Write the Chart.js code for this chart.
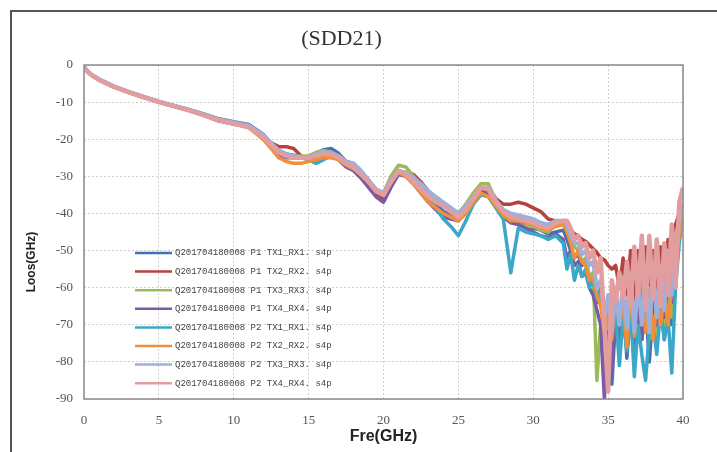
<!DOCTYPE html>
<html>
<head>
<meta charset="utf-8">
<script src="https://cdn.jsdelivr.net/npm/chart.js@4.4.1/dist/chart.umd.min.js"></script>
<style>
  html, body { margin: 0; padding: 0; background: #fff; }
  #wrap { position: relative; width: 717px; height: 452px; overflow: hidden; }
  #frame { position: absolute; left: 10px; top: 10px; width: 720px; height: 460px;
           border: 2px solid #555; pointer-events: none; }
</style>
</head>
<body>
<div id="wrap">
  <canvas id="sddChart" width="717" height="452"></canvas>
  <div id="frame"></div>
</div>
<script>
// frequency points (GHz)
var freq = [0, 0.25, 0.5, 1, 2, 3, 4, 5, 6, 7, 8, 9, 10, 11, 12,
    12.5, 13, 13.5, 14, 14.5, 15, 15.5, 16, 16.5, 17, 17.5, 18, 18.5, 19, 19.5, 20,
    20.5, 21, 21.5, 22, 22.5, 23, 23.5, 24, 24.5, 25, 25.5, 26, 26.5, 27, 27.5, 28,
    28.5, 29, 29.5, 30, 30.5, 31, 31.5, 32,
    32.25, 32.5, 32.75, 33, 33.25, 33.5, 33.75, 34, 34.25, 34.5, 34.75, 35, 35.25, 35.5,
    35.75, 36, 36.25, 36.5, 36.75, 37, 37.25, 37.5, 37.75, 38, 38.25, 38.5, 38.75, 39,
    39.25, 39.5, 39.75, 40];

var seriesNames = [
    'Q201704180008 P1 TX1_RX1. s4p',
    'Q201704180008 P1 TX2_RX2. s4p',
    'Q201704180008 P1 TX3_RX3. s4p',
    'Q201704180008 P1 TX4_RX4. s4p',
    'Q201704180008 P2 TX1_RX1. s4p',
    'Q201704180008 P2 TX2_RX2. s4p',
    'Q201704180008 P2 TX3_RX3. s4p',
    'Q201704180008 P2 TX4_RX4. s4p'
];

var p1tx1 = [-0.5, -1.7, -2.6, -3.8, -5.7, -7.2, -8.5, -9.8, -10.9, -12.0, -13.2, -14.5, -15.3, -16.0, -18.8,
    -21.2, -23.0, -24.0, -24.3, -24.7, -25.0, -24.0, -22.8, -22.5, -23.8, -26.0, -26.5, -29.0, -31.5, -34.5, -35.5,
    -31.5, -28.5, -29.5, -31.0, -33.5, -35.5, -37.5, -39.5, -40.5, -41.8, -39.5, -36.0, -33.5, -34.0, -37.0, -40.0,
    -42.0, -42.5, -43.5, -44.0, -44.5, -45.5, -45.0, -44.5,
    -47, -50, -52, -51, -54, -53, -58, -56, -64, -60, -72, -66, -86, -68,
    -74, -62, -79, -66, -80, -68, -74, -64, -80, -66, -76, -62, -74, -60,
    -70, -50, -45, -37];

var p1tx2 = [-0.5, -1.9, -2.7, -4.0, -5.9, -7.4, -8.7, -10.0, -11.1, -12.2, -13.5, -14.9, -15.8, -16.7, -19.5,
    -21.0, -22.0, -22.0, -22.5, -24.5, -25.2, -25.0, -24.5, -24.5, -25.5, -27.0, -28.0, -30.0, -32.5, -35.0, -36.5,
    -32.5, -29.0, -29.0, -29.5, -31.5, -34.0, -36.0, -38.0, -39.0, -40.0, -38.5, -35.5, -33.5, -33.0, -36.0, -37.5,
    -37.5, -37.0, -37.5, -38.5, -39.5, -41.5, -42.0, -42.5,
    -43, -44.5, -45.5, -46, -47, -47.5, -48.5, -49.5, -50.5, -52, -52.5, -54, -55, -54,
    -60, -52, -62, -50, -64, -50, -63, -49, -65, -50, -62, -49, -60, -47,
    -58, -43, -40, -38];

var p1tx3 = [-0.5, -1.8, -2.6, -3.9, -5.8, -7.3, -8.6, -9.9, -11.0, -12.1, -13.3, -14.7, -15.6, -16.4, -19.0,
    -21.5, -23.5, -24.5, -24.8, -24.5, -24.5, -23.5, -23.0, -23.5, -25.0, -26.5, -27.5, -29.5, -31.5, -33.5, -34.5,
    -30.0, -27.0, -27.5, -30.0, -32.5, -35.0, -36.0, -37.5, -38.5, -40.0, -37.5, -34.5, -32.0, -32.0, -36.5, -40.0,
    -42.0, -43.0, -43.5, -43.5, -44.5, -45.0, -43.0, -42.0,
    -42, -45, -49, -50, -53, -52, -57, -56, -85, -70, -84, -68, -76, -64,
    -72, -66, -74, -62, -70, -64, -72, -66, -74, -68, -75, -64, -72, -60,
    -68, -54, -46, -40];

var p1tx4 = [-0.5, -1.8, -2.7, -4.0, -5.9, -7.4, -8.7, -10.0, -11.1, -12.2, -13.6, -15.1, -15.9, -16.6, -19.6,
    -21.8, -24.0, -25.0, -25.0, -25.0, -25.0, -25.0, -24.5, -24.5, -25.5, -27.5, -28.5, -30.5, -33.0, -35.5, -37.0,
    -33.0, -29.5, -30.0, -32.0, -34.5, -37.0, -39.0, -41.0, -41.5, -42.0, -39.5, -36.5, -34.0, -34.5, -38.0, -41.0,
    -42.5, -43.0, -44.0, -45.0, -46.0, -46.5, -45.5, -47.0,
    -52, -50, -54, -53, -57, -56, -60, -62, -66, -70, -90, -72, -82, -68,
    -75, -66, -73, -64, -71, -65, -74, -66, -72, -63, -70, -62, -68, -58,
    -64, -50, -44, -38];

var p2tx1 = [-0.5, -1.8, -2.6, -3.9, -5.8, -7.3, -8.6, -9.9, -11.0, -12.1, -13.4, -14.8, -15.7, -16.5, -19.8,
    -21.5, -23.5, -24.5, -24.5, -25.0, -25.5, -26.5, -25.5, -24.5, -25.0, -26.5, -27.0, -29.0, -31.0, -33.5, -35.0,
    -31.5, -28.5, -30.0, -32.0, -34.5, -36.5, -38.5, -41.5, -43.5, -46.0, -42.0, -37.5, -35.0, -35.5, -38.5, -41.5,
    -56.0, -44.0, -45.0, -45.5, -46.0, -47.0, -46.0, -48.0,
    -55, -51, -58, -54, -57, -55, -60, -58, -63, -61, -68, -64, -72, -66,
    -81, -68, -77, -66, -84, -70, -78, -85, -72, -70, -78, -66, -74, -68,
    -83, -60, -48, -40];

var p2tx2 = [-0.5, -1.9, -2.7, -4.0, -5.9, -7.4, -8.7, -10.0, -11.1, -12.2, -13.5, -14.9, -15.9, -16.9, -20.2,
    -22.5, -25.0, -26.0, -26.5, -26.5, -26.0, -25.5, -25.0, -25.0, -25.5, -27.0, -28.0, -29.5, -31.5, -34.0, -35.0,
    -31.5, -29.0, -30.0, -32.0, -34.5, -37.0, -38.5, -40.0, -41.0, -42.0, -40.0, -37.0, -34.5, -35.5, -38.0, -40.5,
    -42.0, -42.0, -42.5, -43.0, -44.0, -44.5, -43.5, -43.0,
    -45, -48, -52, -50, -53, -54, -58, -57, -62, -65, -72, -66, -74, -62,
    -70, -64, -76, -60, -73, -58, -56, -72, -60, -74, -64, -70, -62, -70,
    -60, -52, -46, -40];

var p2tx3 = [-0.5, -1.8, -2.6, -3.9, -5.8, -7.3, -8.6, -9.9, -11.0, -12.1, -13.4, -14.7, -15.5, -16.3, -19.0,
    -21.0, -23.0, -24.0, -24.5, -24.8, -24.8, -24.0, -23.5, -23.5, -24.5, -26.0, -26.5, -28.5, -31.0, -33.5, -34.5,
    -31.0, -28.5, -29.0, -30.5, -32.0, -34.0, -35.5, -37.0, -38.5, -40.0, -38.0, -35.5, -33.0, -33.0, -36.5, -39.0,
    -40.0, -40.5, -41.0, -41.5, -42.5, -43.0, -42.0, -42.0,
    -43, -46, -48, -48, -51, -50, -54, -53, -60, -58, -68, -62, -72, -60,
    -70, -58, -71, -56, -72, -58, -70, -56, -72, -55, -68, -54, -66, -50,
    -62, -46, -42, -37];

var p2tx4 = [-0.5, -1.9, -2.7, -4.0, -5.9, -7.4, -8.7, -10.0, -11.1, -12.2, -13.5, -14.9, -15.8, -16.7, -19.6,
    -21.5, -23.5, -24.5, -25.0, -25.0, -25.0, -24.5, -24.0, -24.0, -25.0, -26.5, -27.5, -29.5, -31.5, -34.0, -35.0,
    -31.5, -28.5, -29.5, -31.5, -33.5, -35.5, -37.0, -38.0, -39.5, -41.0, -39.0, -36.0, -33.0, -33.5, -37.0, -39.5,
    -41.0, -41.5, -42.0, -42.5, -43.5, -44.0, -42.5, -42.0,
    -42, -44, -47, -46, -49, -48, -52, -50, -56, -52, -70, -88, -58, -64,
    -56, -63, -53, -65, -49, -62, -46, -66, -46, -63, -47, -65, -48, -62,
    -43, -60, -37, -33];

var seriesValues = [p1tx1, p1tx2, p1tx3, p1tx4, p2tx1, p2tx2, p2tx3, p2tx4];

var lineColors = ['#4472B0', '#B8403F', '#9BBB59', '#7B5BA6', '#3AA8C6', '#F08E3A', '#9BB0DE', '#E29E9E'];
var lineWidths = [3.5, 3.5, 3.5, 3.5, 3.5, 3.5, 4, 4.5];

var xTicks = [0, 5, 10, 15, 20, 25, 30, 35, 40];
var yTicks = [0, -10, -20, -30, -40, -50, -60, -70, -80, -90];

// box round the plot area, axis titles and the legend inside the plot
var decorPlugin = {
    id: 'decor',
    afterDraw: function(chart) {
        var ctx = chart.ctx;
        var area = chart.chartArea;
        ctx.save();
        ctx.strokeStyle = '#8a8a8a';
        ctx.lineWidth = 1.5;
        ctx.strokeRect(area.left, area.top, area.right - area.left, area.bottom - area.top);

        ctx.fillStyle = '#222';
        ctx.font = 'bold 16px "Liberation Sans"';
        ctx.textAlign = 'center';
        ctx.textBaseline = 'middle';
        ctx.fillText('Fre(GHz)', (area.left + area.right) / 2, 437);

        ctx.translate(32, 262);
        ctx.rotate(-Math.PI / 2);
        ctx.font = 'bold 12px "Liberation Sans"';
        ctx.fillText('Loos(GHz)', 0, 0);
        ctx.restore();

        ctx.save();
        ctx.font = '9px "Liberation Mono"';
        ctx.textAlign = 'left';
        ctx.textBaseline = 'middle';
        chart.data.datasets.forEach(function(ds, i) {
            var y = 253 + i * 18.6;
            ctx.strokeStyle = ds.borderColor;
            ctx.lineWidth = 2.5;
            ctx.beginPath();
            ctx.moveTo(135, y);
            ctx.lineTo(172, y);
            ctx.stroke();
            ctx.fillStyle = '#444';
            ctx.fillText(ds.label, 175, y);
        });
        ctx.restore();
    }
};

var ctx = document.getElementById('sddChart').getContext('2d');
new Chart(ctx, {
    type: 'line',
    data: {
        datasets: seriesValues.map(function(vals, i) {
            return {
                label: seriesNames[i],
                data: vals.map(function(v, j) { return { x: freq[j], y: v }; }),
                borderColor: lineColors[i],
                backgroundColor: lineColors[i],
                borderWidth: lineWidths[i],
                borderJoinStyle: 'round',
                pointRadius: 0,
                tension: 0,
                fill: false,
                order: 7 - i
            };
        })
    },
    options: {
        responsive: false,
        animation: false,
        layout: { padding: { left: 0, right: 34, top: 0, bottom: 0 } },
        scales: {
            x: {
                type: 'linear',
                min: 0,
                max: 40,
                afterFit: function(scale) { scale.height = 53; },
                afterBuildTicks: function(scale) {
                    scale.ticks = xTicks.map(function(v) { return { value: v }; });
                },
                grid: { color: '#cfcfcf', drawTicks: false },
                border: { display: false, dash: [2, 2] },
                ticks: { color: '#555', padding: 14, maxRotation: 0,
                         font: { family: '"Liberation Serif"', size: 13 } }
            },
            y: {
                min: -90,
                max: 0,
                afterFit: function(scale) { scale.width = 84; },
                afterBuildTicks: function(scale) {
                    scale.ticks = yTicks.map(function(v) { return { value: v }; });
                },
                grid: { color: '#cfcfcf', drawTicks: false },
                border: { display: false, dash: [2, 2] },
                ticks: { color: '#555', padding: 11,
                         font: { family: '"Liberation Serif"', size: 13 } }
            }
        },
        plugins: {
            legend: { display: false },
            tooltip: { enabled: false },
            title: {
                display: true,
                text: '(SDD21)',
                color: '#333',
                font: { family: '"Liberation Serif"', size: 22, weight: 'normal', lineHeight: 1.2 },
                padding: { top: 26, bottom: 12.6 }
            }
        }
    },
    plugins: [decorPlugin]
});
</script>
</body>
</html>
